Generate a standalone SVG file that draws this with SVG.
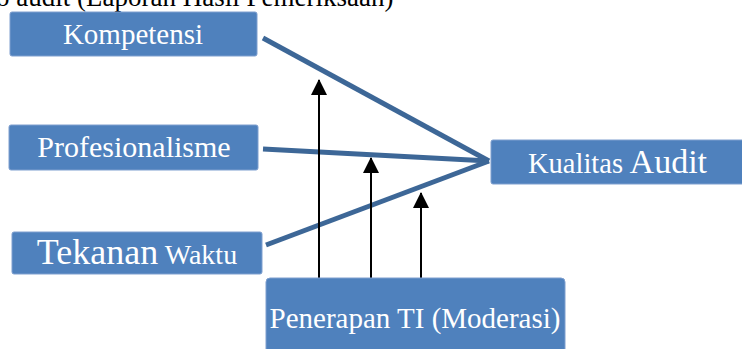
<svg xmlns="http://www.w3.org/2000/svg" width="742" height="349" viewBox="0 0 742 349">
<defs>
<style>
.box{fill:#4f81bd;stroke:#7f9fcf;stroke-width:1}
.lbl{fill:#ffffff;font-family:"Liberation Serif","Times New Roman",serif}
.main{stroke:#3d6797;stroke-width:5;fill:none;stroke-linejoin:miter}
.mod{stroke:#000000;stroke-width:2;fill:none}
</style>
<marker id="ah" markerUnits="userSpaceOnUse" markerWidth="16" markerHeight="16" viewBox="0 0 16 16" refX="15" refY="8" orient="auto">
<path d="M0,0 L16,8 L0,16 Z" fill="#000000"/>
</marker>
</defs>
<rect width="742" height="349" fill="#ffffff"/>
<text x="-4" y="6" font-family="Liberation Serif, serif" font-size="27" fill="#000000">o audit (Laporan Hasil Pemeriksaan)</text>
<g id="connectors">
<line class="main" x1="263" y1="38" x2="489" y2="161"/>
<line class="main" x1="263" y1="149" x2="489" y2="161"/>
<line class="main" x1="266" y1="245" x2="489" y2="161"/>
<line class="mod" x1="319" y1="279" x2="319" y2="80" marker-end="url(#ah)"/>
<line class="mod" x1="371" y1="279" x2="371" y2="158" marker-end="url(#ah)"/>
<line class="mod" x1="421" y1="279" x2="421" y2="193" marker-end="url(#ah)"/>
</g>
<g id="kompetensi">
<rect class="box" x="10" y="12" width="247" height="44" rx="2"/>
<text class="lbl" x="133" y="44" font-size="29" text-anchor="middle">Kompetensi</text>
</g>
<g id="profesionalisme">
<rect class="box" x="9" y="125" width="249" height="45" rx="2"/>
<text class="lbl" x="134" y="157" font-size="30" text-anchor="middle">Profesionalisme</text>
</g>
<g id="tekanan">
<rect class="box" x="12" y="232" width="250" height="42" rx="2"/>
<text class="lbl" x="137" y="264" text-anchor="middle"><tspan font-size="36">Tekanan</tspan><tspan font-size="28"> Waktu</tspan></text>
</g>
<g id="kualitas">
<rect class="box" x="491" y="140" width="260" height="44" rx="2"/>
<text class="lbl" x="528" y="173"><tspan font-size="28.5">Kualitas</tspan><tspan font-size="34"> Audit</tspan></text>
</g>
<g id="penerapan">
<rect class="box" x="266" y="278" width="299" height="80" rx="4"/>
<text class="lbl" x="415" y="328" font-size="29" text-anchor="middle">Penerapan TI (Moderasi)</text>
</g>
</svg>
